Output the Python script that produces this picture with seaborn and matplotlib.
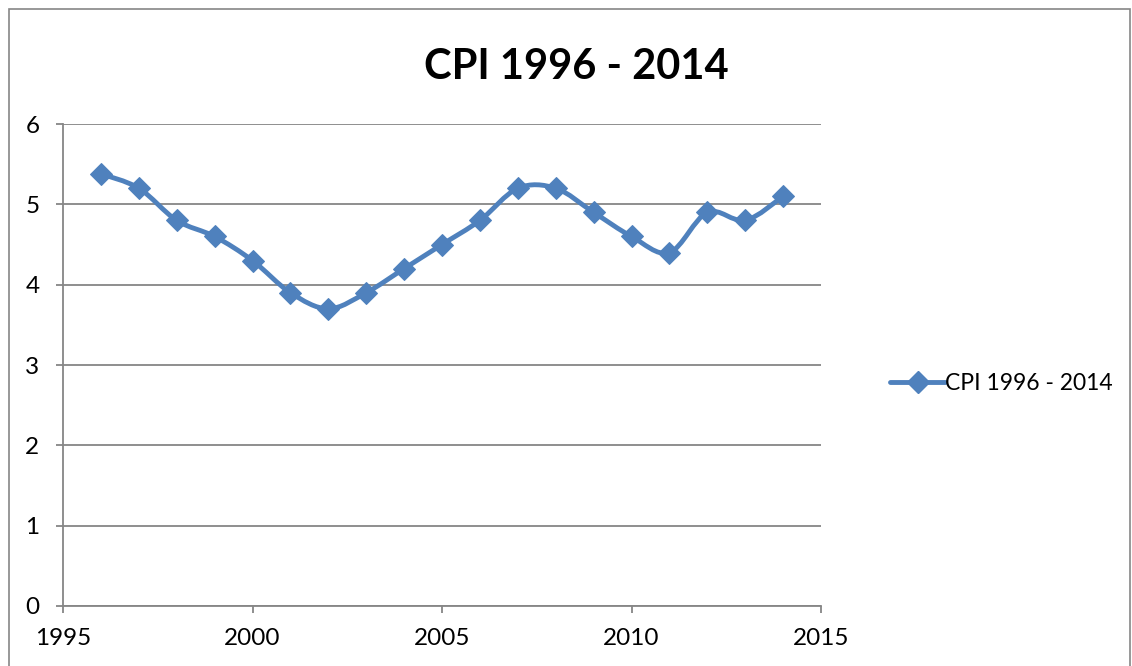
import numpy as np
import pandas as pd
import matplotlib.pyplot as plt
from matplotlib.path import Path
from matplotlib.patches import PathPatch, Rectangle
from matplotlib.lines import Line2D
import seaborn as sns

sns.set_style('white')
plt.rcParams['font.family'] = ['Lato', 'DejaVu Sans']
plt.rcParams['text.color'] = 'black'

# data
years = [1996, 1997, 1998, 1999, 2000, 2001, 2002, 2003, 2004, 2005,
         2006, 2007, 2008, 2009, 2010, 2011, 2012, 2013, 2014]
cpi = [5.38, 5.2, 4.8, 4.6, 4.3, 3.9, 3.7, 3.9, 4.2, 4.5,
       4.8, 5.2, 5.2, 4.9, 4.6, 4.4, 4.9, 4.8, 5.1]
label = 'CPI 1996 - 2014'
blue = '#4F81BD'
grey = '#868686'

df = pd.DataFrame({'year': years, 'cpi': cpi})

fig = plt.figure(figsize=(11.32, 6.66), dpi=100)
ax = fig.add_axes([0.0557, 0.0901, 0.6696, 0.7237])

# smoothed line like excel (catmull-rom bezier through the points)
pts = df[['year', 'cpi']].to_numpy(dtype=float)
verts = [pts[0]]
codes = [Path.MOVETO]
n = len(pts)
for i in range(n - 1):
    p0 = pts[i - 1] if i > 0 else pts[i]
    p1 = pts[i]
    p2 = pts[i + 1]
    p3 = pts[i + 2] if i + 2 < n else pts[i + 1]
    c1 = p1 + (p2 - p0) / 6
    c2 = p2 - (p3 - p1) / 6
    verts += [c1, c2, p2]
    codes += [Path.CURVE4] * 3
ax.add_patch(PathPatch(Path(verts, codes), facecolor='none', edgecolor=blue,
                       lw=3.5, capstyle='round', joinstyle='round', zorder=3))

sns.lineplot(data=df, x='year', y='cpi', ax=ax, marker='D', markersize=11,
             linestyle='none', color=blue, markeredgecolor=blue, zorder=4)

ax.set_xlim(1995, 2015)
ax.set_ylim(0, 6)
ax.set_xticks(range(1995, 2016, 5))
ax.set_yticks(range(0, 7))
ax.yaxis.grid(True, color=grey, lw=1.3)
ax.set_xlabel('')
ax.set_ylabel('')
for s in ['top', 'right']:
    ax.spines[s].set_visible(False)
for s in ['left', 'bottom']:
    ax.spines[s].set_color(grey)
    ax.spines[s].set_linewidth(1.3)
ax.tick_params(axis='both', direction='out', length=5, width=1.3, color=grey,
               labelsize=17.5, labelcolor='black', left=True, bottom=True)
ax.tick_params(axis='x', pad=11)
ax.tick_params(axis='y', pad=12)

fig.text(0.509, 0.899, label, ha='center', va='center', fontsize=30,
         fontweight='bold', color='black')

handle = Line2D([], [], color=blue, lw=3.5, marker='D', markersize=11,
                solid_capstyle='round')
leg = fig.legend([handle], [label], loc='center left', bbox_to_anchor=(0.768, 0.424),
                 frameon=False, fontsize=16.5, handlelength=2.4, handletextpad=0.0)
for t in leg.get_texts():
    t.set_color('black')

# outer chart frame
fig.add_artist(Rectangle((0.008, -0.05), 0.99, 1.036, transform=fig.transFigure,
                         fill=False, edgecolor=grey, lw=1.2))

plt.savefig('out.png', dpi=100)
